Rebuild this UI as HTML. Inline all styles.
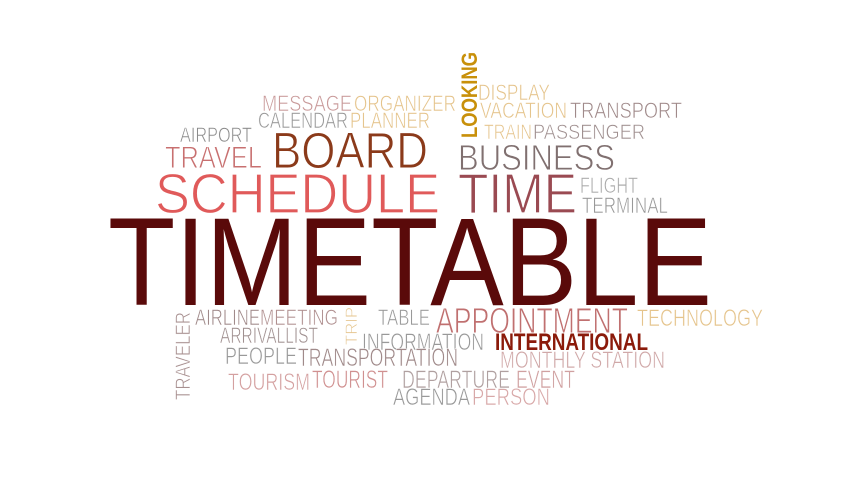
<!DOCTYPE html>
<html><head><meta charset="utf-8"><style>
html,body{margin:0;padding:0;background:#fff;}
svg{display:block;font-family:"Liberation Sans",sans-serif;}
text{stroke:#fff;}
</style></head><body>
<svg width="852" height="480" viewBox="0 0 852 480">
<rect width="852" height="480" fill="#fff" stroke="none"/>
<script>
const words=[
["TIMETABLE",108,305,604,90,"#5a0a0a",0,0],
["SCHEDULE",155,213,285,41,"#e05a5a",0,1.2],
["TIME",458,213,119,41,"#9a4a52",0,1.2],
["BOARD",272,168,156,37,"#8b3a1a",0,1],
["TRAVEL",165,168,97,23,"#c87070",0,0.9],
["AIRPORT",180,142,72,15,"#8a8a8a",0,0.6],
["MESSAGE",262,111,90,16,"#c99a9a",0,0.6],
["ORGANIZER",354,111,102,16,"#e5c48c",0,0.6],
["CALENDAR",258,128,90,16,"#9a9a9a",0,0.6],
["PLANNER",350,128,80,16,"#e5c48c",0,0.6],
["DISPLAY",478,100,72,16,"#e5c48c",0,0.6],
["VACATION",480,118,87,16,"#e5c48c",0,0.6],
["TRANSPORT",570,118,112,16,"#a08a8a",0,0.6],
["TRAIN",484,139,48,15,"#e5c48c",0,0.6],
["PASSENGER",533,139,112,15,"#a09090",0,0.6],
["BUSINESS",458,170,157,26,"#807070",0,0.9],
["FLIGHT",580,193,58,16,"#aaaaaa",0,0.6],
["TERMINAL",582,213,86,16,"#999999",0,0.6],
["AIRLINE",195,325,65,16,"#a08a8a",0,0.6],
["MEETING",260,325,78,16,"#b09090",0,0.6],
["TABLE",378,325,52,16,"#999999",0,0.6],
["APPOINTMENT",436,333,192,26,"#c07070",0,0.9],
["TECHNOLOGY",637,326,126,17,"#e5c48c",0,0.6],
["ARRIVALLIST",220,343,98,16,"#a09090",0,0.6],
["INFORMATION",362,350,122,17,"#999999",0,0.6],
["INTERNATIONAL",495,350,153,17,"#8b1a0a",1,0],
["PEOPLE",225,364,72,17,"#999999",0,0.6],
["TRANSPORTATION",298,366,160,18,"#a08a8a",0,0.6],
["MONTHLY STATION",500,368,165,17,"#d0a8a8",0,0.6],
["TOURISM",228,390,82,17,"#d4a0a0",0,0.6],
["TOURIST",312,388,76,18,"#d09090",0,0.6],
["DEPARTURE",402,388,108,18,"#b0a0a0",0,0.6],
["EVENT",516,388,59,18,"#d0a0a0",0,0.6],
["AGENDA",393,405,77,17,"#999999",0,0.6],
["PERSON",472,405,78,17,"#d8a8a8",0,0.6]
];
const vwords=[
["LOOKING",477,138,86,16,"#c8900a",1],
["TRAVELER",190,400,88,15,"#a89090",0],
["TRIP",357,345,38,12,"#e5c48c",0]
];
const NS="http://www.w3.org/2000/svg";
const svg=document.currentScript.parentNode;
words.forEach(w=>{
  const t=document.createElementNS(NS,"text");
  
  
  t.setAttribute("x",w[1]);t.setAttribute("y",w[2]);
  t.setAttribute("font-size",(w[4]/0.72).toFixed(1));
  t.setAttribute("textLength",w[3]);
  t.setAttribute("lengthAdjust","spacingAndGlyphs");
  t.setAttribute("fill",w[5]);
  if(w[6])t.setAttribute("font-weight","bold");
  t.setAttribute("stroke-width",w[7]);
  t.textContent=w[0];svg.appendChild(t);
});
vwords.forEach(w=>{
  const t=document.createElementNS(NS,"text");
  
  
  t.setAttribute("x",0);t.setAttribute("y",0);
  t.setAttribute("transform","translate("+w[1]+","+w[2]+") rotate(-90)");
  t.setAttribute("font-size",(w[4]/0.72).toFixed(1));
  t.setAttribute("textLength",w[3]);
  t.setAttribute("lengthAdjust","spacingAndGlyphs");
  t.setAttribute("fill",w[5]);
  if(w[6])t.setAttribute("font-weight","bold");
  t.setAttribute("stroke-width",w[6]?0:0.6);
  t.textContent=w[0];svg.appendChild(t);
});
</script>
</svg>
</body></html>
